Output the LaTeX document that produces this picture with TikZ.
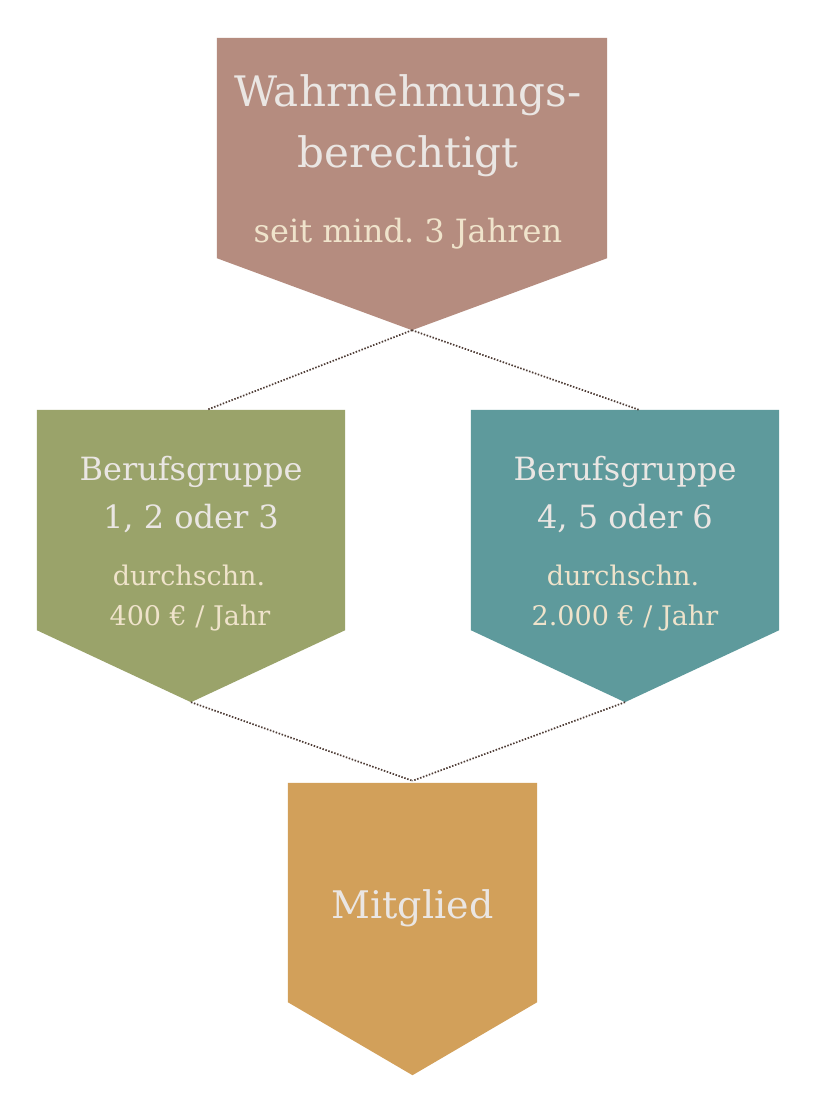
\documentclass[tikz,border=0pt]{standalone}
\usepackage{fontspec}
\setmainfont{DejaVu Serif}
\usetikzlibrary{backgrounds}
\frenchspacing

\definecolor{rosebox}{HTML}{B58C7F}
\definecolor{olivebox}{HTML}{9AA36A}
\definecolor{tealbox}{HTML}{5E9A9C}
\definecolor{goldbox}{HTML}{D2A05A}
\definecolor{headtxt}{HTML}{EAE6E3}
\definecolor{subtxt}{HTML}{EFE3CB}
\definecolor{linkcol}{HTML}{4E3C35}

\begin{document}
\begin{tikzpicture}[
    x=1pt, y=1pt,
    box/.style={rectangle, minimum width=308pt, minimum height=220pt, inner sep=0pt},
    big/.style={anchor=base, text=headtxt, font=\fontsize{42}{50}\selectfont},
    mid/.style={anchor=base, text=headtxt, font=\fontsize{32}{38}\selectfont},
    small/.style={anchor=base, text=subtxt, font=\fontsize{27}{32}\selectfont},
    link/.style={draw=linkcol, line width=1.7pt, dash pattern=on 1.5pt off 1.6pt}
  ]
    \useasboundingbox (0,0) rectangle (815,-1099);

    % boxes
    \node[box, minimum width=390pt] (wahr) at (412,-148) {};
    \node[box] (beruf1) at (191,-520) {};
    \node[box] (beruf2) at (625,-520) {};
    \node[box, minimum width=249pt, minimum height=219pt] (mitglied) at (412.5,-892.5) {};

    \coordinate (wahrtip) at ([yshift=-72pt]wahr.south);
    \coordinate (beruf1tip) at ([yshift=-72pt]beruf1.south);
    \coordinate (beruf2tip) at ([yshift=-72pt]beruf2.south);
    \coordinate (mitgliedtip) at ([yshift=-73pt]mitglied.south);

    \begin{scope}[on background layer]
      \fill[white] (0,0) rectangle (815,-1099);
      \fill[rosebox] (wahr.north west) -- (wahr.north east) -- (wahr.south east) -- (wahrtip) -- (wahr.south west) -- cycle;
      \fill[olivebox] (beruf1.north west) -- (beruf1.north east) -- (beruf1.south east) -- (beruf1tip) -- (beruf1.south west) -- cycle;
      \fill[tealbox] (beruf2.north west) -- (beruf2.north east) -- (beruf2.south east) -- (beruf2tip) -- (beruf2.south west) -- cycle;
      \fill[goldbox] (mitglied.north west) -- (mitglied.north east) -- (mitglied.south east) -- (mitgliedtip) -- (mitglied.south west) -- cycle;
    \end{scope}

    % texts
    \node[big] (wahr1) at (408,-107) {Wahrnehmungs-};
    \node[big] (wahr2) at (408,-168) {berechtigt};
    \node[small, font=\fontsize{32}{38}\selectfont] (wahr3) at (408,-242) {seit mind. 3 Jahren};

    \node[mid] (beruf1a) at (191,-480) {Berufsgruppe};
    \node[mid] (beruf1b) at (191,-528) {1, 2 oder 3};
    \node[small] (beruf1c) at (189,-585) {durchschn.};
    \node[small] (beruf1d) at (190,-625) {400 € / Jahr};

    \node[mid] (beruf2a) at (625,-480) {Berufsgruppe};
    \node[mid] (beruf2b) at (625,-528) {4, 5 oder 6};
    \node[small] (beruf2c) at (623,-585) {durchschn.};
    \node[small] (beruf2d) at (625,-625) {2.000 € / Jahr};

    \node[mid, font=\fontsize{38}{45}\selectfont] (mitglied1) at (412.5,-918) {Mitglied};

    % dotted links
    \draw[link] (wahrtip) -- ([xshift=16pt]beruf1.north);
    \draw[link] (wahrtip) -- ([xshift=14pt]beruf2.north);
    \draw[link] (beruf1tip) -- ([yshift=2pt]mitglied.north);
    \draw[link] (beruf2tip) -- ([yshift=2pt]mitglied.north);
  \end{tikzpicture}
\end{document}
